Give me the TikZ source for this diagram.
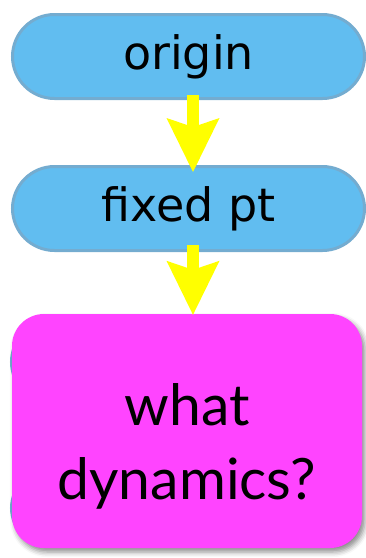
\documentclass[tikz,border=0pt]{standalone}
\usepackage{fontspec}
\newfontfamily\stagefont{DejaVu Sans}
\newfontfamily\askfont{Lato}
\usetikzlibrary{
    positioning,
    arrows.meta,
    shadows.blur
}
\definecolor{stagecolor}{RGB}{97, 189, 240}
\definecolor{edgecolor}{RGB}{116, 172, 208}
\definecolor{askcolor}{RGB}{255, 68, 255}
\definecolor{flowcolor}{RGB}{255, 255, 0}

\begin{document}
\begin{tikzpicture}[
    x=1pt, y=-1pt,
    % Stage boxes
    stage/.style={
        rectangle,
        draw=edgecolor,
        fill=stagecolor,
        rounded corners=42pt,
        minimum width=352pt,
        minimum height=84pt,
        inner sep=0pt,
        font=\stagefont\fontsize{46}{55}\selectfont,
        line width=3pt
    },
    % Open question box
    question/.style={
        rectangle,
        fill=askcolor,
        rounded corners=32pt,
        minimum width=350pt,
        minimum height=234pt,
        align=center,
        font=\askfont\fontsize{57}{74}\selectfont,
        blur shadow={shadow xshift=3pt, shadow yshift=-4pt,
                     shadow blur radius=5pt, shadow opacity=45}
    },
    % Arrow style
    flow/.style={
        -{Stealth[length=54pt, width=53pt, inset=9pt, line width=0pt]},
        draw=flowcolor,
        line width=12pt
    }
]

\useasboundingbox (0, 0) rectangle (366, 558);

% ============================================
% STAGES
% ============================================

\node[stage] (origin) at (188.5, 56.5) {origin};
\node[stage, below=65pt of origin] (fixed) {fixed pt};

% Further stages, covered by the question
\node[stage, minimum width=347pt] (stage3) at (185, 362) {};
\node[stage, minimum width=347pt, minimum height=76pt,
      rounded corners=38pt] (stage4) at (185, 508) {};

% ============================================
% QUESTION
% ============================================

\node[question] (dyn) at (187, 431) {\rule{0pt}{72pt}what\\dynamics?};

% ============================================
% ARROWS
% ============================================

\draw[flow] ([xshift=4.5pt, yshift=5pt]origin.south) -- ([xshift=4.5pt, yshift=-7pt]fixed.north);
\draw[flow] ([xshift=4.5pt, yshift=7pt]fixed.south) -- ([xshift=6pt, yshift=-1pt]dyn.north);

\end{tikzpicture}
\end{document}
